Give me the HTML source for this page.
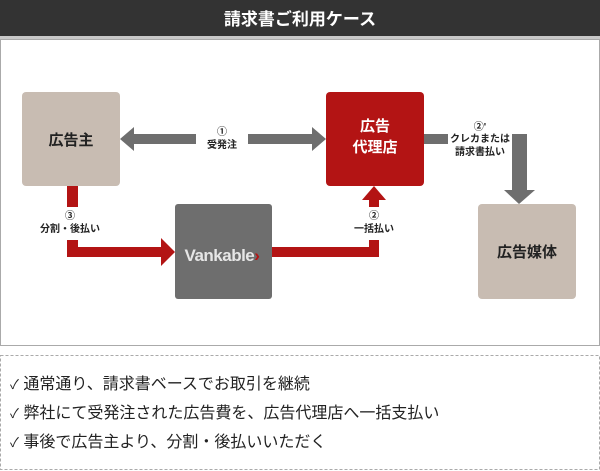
<!DOCTYPE html>
<html><head><meta charset="utf-8"><style>
body{margin:0;width:600px;height:471px;background:#fff;overflow:hidden;font-family:"Liberation Sans","Noto Sans CJK JP",sans-serif}
</style></head><body>
<svg width="600" height="471" viewBox="0 0 600 471" xmlns="http://www.w3.org/2000/svg" style="position:absolute;left:0;top:0">
<rect x="0" y="0" width="600" height="36" fill="#333"/>
<rect x="0" y="36" width="600" height="3" fill="#c8c8c8"/>
<text x="300" y="25" fill="#fff" font-size="17" font-weight="bold" text-anchor="middle" font-family="Liberation Sans, Noto Sans CJK JP, sans-serif">請求書ご利用ケース</text>
<rect x="0.5" y="39.5" width="599" height="306" fill="#fff" stroke="#aaa"/>
<rect x="22" y="92" width="98" height="94" rx="4" fill="#c8bcb2"/>
<rect x="326" y="92" width="98" height="94" rx="4" fill="#b31414"/>
<rect x="175" y="204" width="97" height="95" rx="3" fill="#6e6e6e"/>
<rect x="478" y="204" width="98" height="95" rx="4" fill="#c8bcb2"/>
<g fill="#6e6e6e">
<rect x="132" y="134" width="64" height="10"/><polygon points="120,139 134,127 134,151"/>
<rect x="248" y="134" width="64" height="10"/><polygon points="326,139 312,127 312,151"/>
<rect x="424" y="134" width="24" height="10"/>
<rect x="512" y="134" width="15" height="56"/><polygon points="504,190 535,190 519,204"/>
</g>
<g fill="#b31414">
<rect x="67" y="186" width="11" height="21"/>
<rect x="67" y="240" width="11" height="17"/>
<rect x="67" y="247" width="96" height="10"/><polygon points="175,252 161,238 161,266"/>
<rect x="272" y="247" width="107" height="10"/>
<rect x="369" y="240" width="10" height="17"/>
<rect x="369" y="198" width="10" height="9"/><polygon points="374,186 362,200 386,200"/>
</g>
<g font-family="Liberation Sans, Noto Sans CJK JP, sans-serif" font-weight="bold" text-anchor="middle">
<text x="71" y="145" font-size="15" fill="#222">広告主</text>
<text x="375" y="131" font-size="15" fill="#fff">広告</text>
<text x="375" y="152" font-size="15" fill="#fff">代理店</text>
<text x="527" y="257" font-size="15" fill="#222">広告媒体</text>
<text x="222" y="261" font-size="17" fill="#e6e6e6" font-family="Liberation Sans, sans-serif" letter-spacing="-0.5">Vankable<tspan fill="#b31414">›</tspan></text>
<g font-size="10" fill="#222">
<text x="222" y="135">①</text><text x="222" y="148">受発注</text>
<text x="70" y="219">③</text><text x="70" y="232">分割・後払い</text>
<text x="374" y="219">②</text><text x="374" y="232">一括払い</text>
<text x="480" y="130">②'</text><text x="480" y="142">クレカまたは</text><text x="480" y="155">請求書払い</text>
</g></g>
<rect x="0.5" y="355.5" width="599" height="114" fill="none" stroke="#aaa" stroke-dasharray="3,2"/>
<g font-family="Liberation Sans, Noto Sans CJK JP, sans-serif" font-size="16" fill="#222">
<text x="10" y="389"><tspan font-size="13">✓</tspan> 通常通り、請求書ベースでお取引を継続</text>
<text x="10" y="418"><tspan font-size="13">✓</tspan> 弊社にて受発注された広告費を、広告代理店へ一括支払い</text>
<text x="10" y="447"><tspan font-size="13">✓</tspan> 事後で広告主より、分割・後払いいただく</text>
</g>
</svg>
</body></html>
